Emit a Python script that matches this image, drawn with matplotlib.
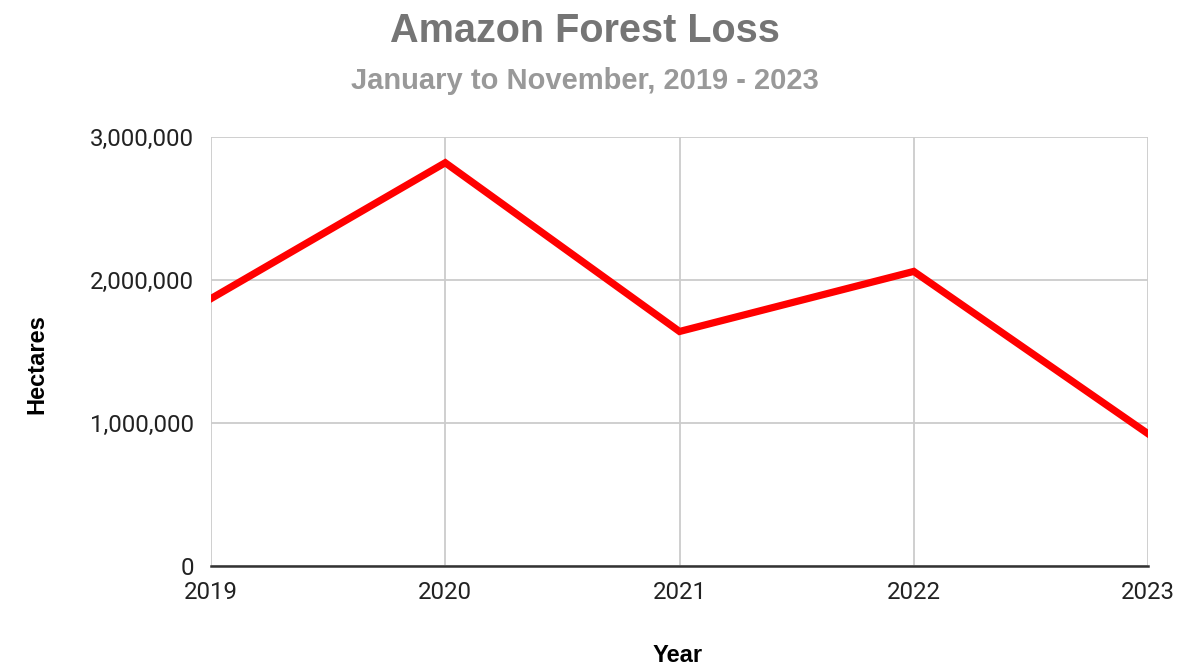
import matplotlib.pyplot as plt
from matplotlib.ticker import FuncFormatter

# Datos
years = [2019, 2020, 2021, 2022, 2023]
hectares = [1870000, 2820000, 1640000, 2060000, 925000]
y_ticks = [0, 1000000, 2000000, 3000000]

fig = plt.figure(figsize=(11.81, 6.66), dpi=100)
ax = fig.add_axes([211 / 1181, 1 - 566 / 666, (1148 - 211) / 1181, (566 - 137) / 666])

ax.plot(years, hectares, color='#ff0000', linewidth=5.2, solid_joinstyle='miter', zorder=3)

ax.set_xlim(2019, 2023)
ax.set_ylim(0, 3000000)
ax.set_xticks(years)
ax.set_yticks(y_ticks)
ax.yaxis.set_major_formatter(FuncFormatter(lambda v, p: f'{int(v):,}'))

ax.grid(True, color='#cccccc', linewidth=1.3, zorder=0)
for side in ['left', 'right', 'top']:
    ax.spines[side].set_visible(False)
ax.spines['bottom'].set_color('#333333')
ax.spines['bottom'].set_linewidth(1.8)
ax.spines['bottom'].set_zorder(4)

ax.tick_params(length=0, labelsize=17.3, labelcolor='#222222')
ax.tick_params(axis='y', pad=12)
ax.tick_params(axis='x', pad=10.5)
for lbl in ax.get_xticklabels() + ax.get_yticklabels():
    lbl.set_family('Roboto')

fig.text(585 / 1181, 1 - 42 / 666, 'Amazon Forest Loss', ha='center', va='baseline',
         fontsize=28.5, fontweight='bold', color='#757575', family='Liberation Sans')
fig.text(585 / 1181, 1 - 89 / 666, 'January to November, 2019 - 2023', ha='center', va='baseline',
         fontsize=21, fontweight='bold', color='#999999', family='Liberation Sans')
fig.text(37 / 1181, 1 - 364 / 666, 'Hectares', rotation=90, ha='center', va='center',
         fontsize=17, fontweight='bold', color='#000000', family='Liberation Sans')
fig.text(678 / 1181, 1 - 655 / 666, 'Year', ha='center', va='center',
         fontsize=17, fontweight='bold', color='#000000', family='Liberation Sans')

fig.savefig('out.png', dpi=100)
